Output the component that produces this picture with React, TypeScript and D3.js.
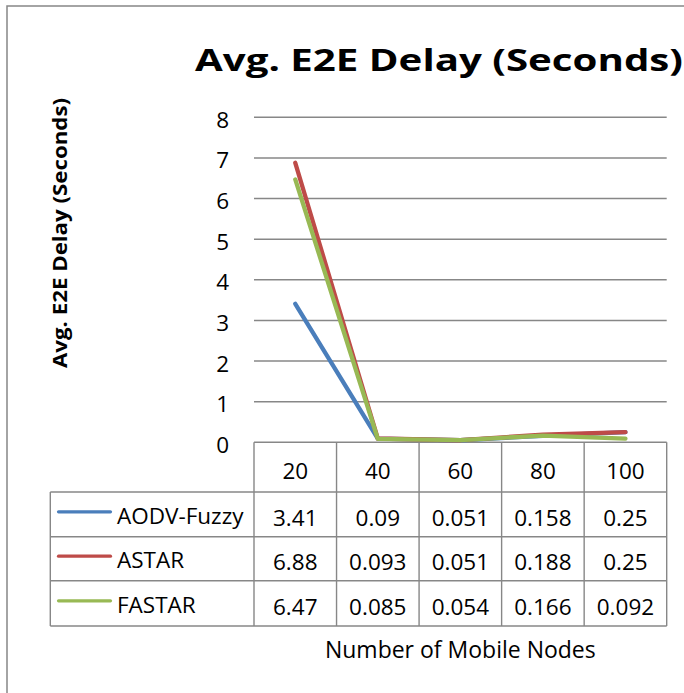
import React from 'react';
import * as d3 from 'd3';

const categories = ['20', '40', '60', '80', '100'];
const seriesNames = ['AODV-Fuzzy', 'ASTAR', 'FASTAR'];
const aodvFuzzy = [3.41, 0.09, 0.051, 0.158, 0.25];
const astar = [6.88, 0.093, 0.051, 0.188, 0.25];
const fastar = [6.47, 0.085, 0.054, 0.166, 0.092];
const yTicks = [0, 1, 2, 3, 4, 5, 6, 7, 8];
const titleText = 'Avg. E2E Delay (Seconds)';
const yTitleText = 'Avg. E2E Delay (Seconds)';
const xTitleText = 'Number of Mobile Nodes';

const seriesValues = [aodvFuzzy, astar, fastar];
const seriesColors = ['#4A7EBB', '#BE4B48', '#98B954'];

const W = 684;
const H = 693;
const FONT = "'Open Sans', 'Noto Sans', sans-serif";
const GRID = '#878787';
const FS = 22.5;

export default function App() {
  const plotL = 254;
  const plotR = 666.7;
  const plotT = 117.3;
  const plotB = 442.3;
  const x = d3.scaleBand<string>().domain(categories).range([plotL, plotR]).paddingInner(0).paddingOuter(0);
  const y = d3.scaleLinear().domain([0, 8]).range([plotB, plotT]);
  const bw = x.bandwidth();
  const cx = (c: string) => (x(c) as number) + bw / 2;

  const line = d3
    .line<number>()
    .x((_, i) => cx(categories[i]))
    .y((d) => y(d));

  const headerB = 492;
  const rowEdges = [492, 536.7, 580.7, 626];
  const tableL = 50.3;
  const edges = [plotL, ...categories.slice(1).map((c) => x(c) as number), plotR];

  return (
    <svg
      width={W}
      height={H}
      style={{ position: 'absolute', left: 0, top: 0, display: 'block', background: '#fff' }}
      fontFamily={FONT}
    >
      <rect x={0} y={0} width={W} height={H} fill="#fff" />
      {/* chart border */}
      <rect x={7} y={6} width={W + 20} height={H + 20} fill="none" stroke={GRID} strokeWidth={1.5} />

      {/* title */}
      <text x={195} y={71} fontSize={31} fontWeight="bold" textLength={488} lengthAdjust="spacingAndGlyphs" fill="#000">
        {titleText}
      </text>

      {/* y axis title */}
      <text
        transform={`translate(67,233) rotate(-90)`}
        textAnchor="middle"
        fontSize={19}
        fontWeight="bold"
        textLength={270}
        lengthAdjust="spacingAndGlyphs"
        fill="#000"
      >
        {yTitleText}
      </text>

      {/* gridlines */}
      {yTicks.map((t) => (
        <line key={'g' + t} x1={plotL} x2={plotR} y1={y(t)} y2={y(t)} stroke={GRID} strokeWidth={1.4} />
      ))}
      {/* y tick labels */}
      {yTicks.map((t) => (
        <text key={'yl' + t} x={229} y={y(t) + 10.5} textAnchor="end" fontSize={FS} fill="#000">
          {t}
        </text>
      ))}

      {/* table: header row */}
      {edges.map((e, i) => (
        <line key={'hv' + i} x1={e} x2={e} y1={plotB} y2={headerB} stroke={GRID} strokeWidth={1.4} />
      ))}
      {categories.map((c) => (
        <text key={'h' + c} x={cx(c)} y={(plotB + headerB) / 2 + 11.5} textAnchor="middle" fontSize={FS} fill="#000">
          {c}
        </text>
      ))}
      {/* data rows */}
      {rowEdges.map((ry, i) => (
        <line key={'rh' + i} x1={tableL} x2={plotR} y1={ry} y2={ry} stroke={GRID} strokeWidth={1.4} />
      ))}
      {[tableL, ...edges].map((e, i) => (
        <line key={'rv' + i} x1={e} x2={e} y1={rowEdges[0]} y2={rowEdges[3]} stroke={GRID} strokeWidth={1.4} />
      ))}
      {seriesNames.map((name, si) => {
        const top = rowEdges[si];
        const bot = rowEdges[si + 1];
        const mid = (top + bot) / 2;
        return (
          <g key={'row' + name}>
            <line x1={58.5} x2={110.5} y1={mid - 2.5} y2={mid - 2.5} stroke={seriesColors[si]} strokeWidth={3.2} strokeLinecap="round" />
            <text x={117} y={mid + 9.5} fontSize={FS} fill="#000">
              {name}
            </text>
            {seriesValues[si].map((v, ci) => (
              <text key={ci} x={cx(categories[ci])} y={mid + 11.5} textAnchor="middle" fontSize={FS} fill="#000">
                {String(v)}
              </text>
            ))}
          </g>
        );
      })}

      {/* x axis title */}
      <text x={(plotL + plotR) / 2} y={658.3} textAnchor="middle" fontSize={23} fill="#000">
        {xTitleText}
      </text>

      {/* series lines */}
      {seriesValues.map((vals, si) => (
        <path
          key={'s' + si}
          d={line(vals) as string}
          fill="none"
          stroke={seriesColors[si]}
          strokeWidth={4.3}
          strokeLinecap="round"
          strokeLinejoin="round"
        />
      ))}
    </svg>
  );
}
